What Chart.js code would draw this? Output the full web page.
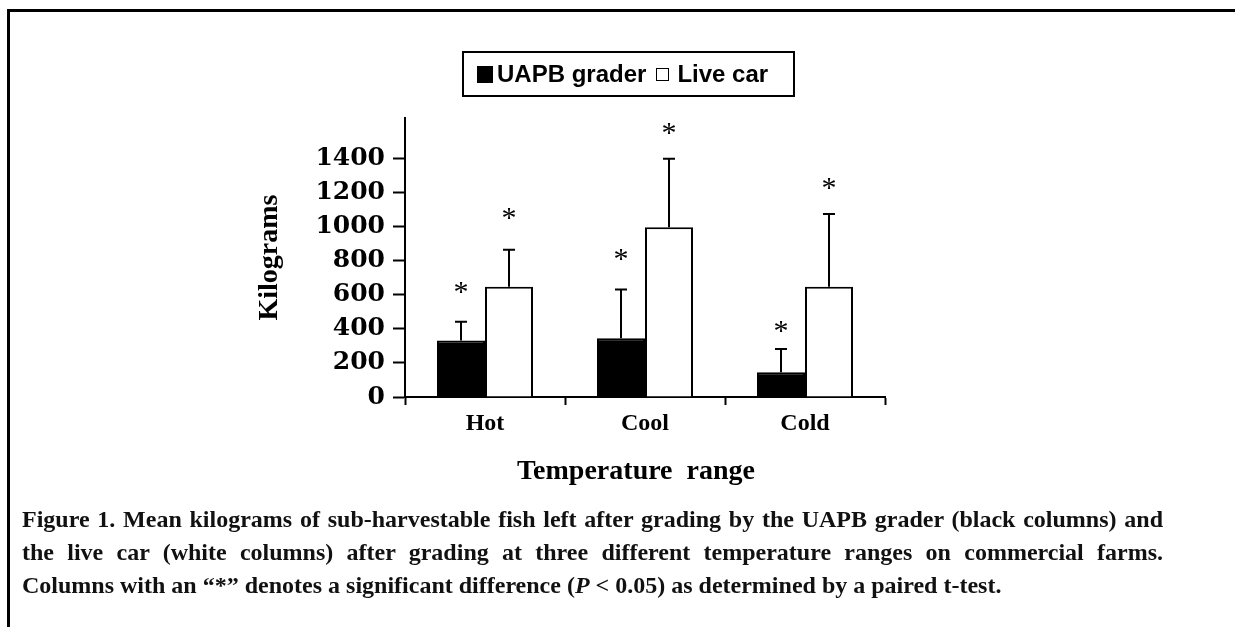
<!DOCTYPE html>
<html>
<head>
<meta charset="utf-8">
<script src="https://cdn.jsdelivr.net/npm/chart.js@4.4.1/dist/chart.umd.min.js"></script>
<style>
  html, body { margin: 0; padding: 0; background: #fff; width: 1235px; height: 627px; overflow: hidden; }
  #frame { position: absolute; left: 7px; top: 9px; width: 1300px; height: 700px;
           border-top: 3px solid #000; border-left: 3px solid #000; }
  #chart { position: absolute; left: 0; top: 0; }
  #legend { position: absolute; left: 462px; top: 51px; width: 316px; height: 42px;
            border: 2px solid #000; display: flex; align-items: center; justify-content: flex-start;
            padding-left: 13px; box-sizing: content-box;
            font: bold 24px "Liberation Sans", Arial, sans-serif; color: #000; white-space: nowrap; }
  .lgItem { display: flex; align-items: center; }
  .sw { display: inline-block; box-sizing: border-box; }
  #xtitle { position: absolute; left: 436px; width: 400px; top: 452px; text-align: center;
            font: bold 28px/36px "Liberation Serif", "Times New Roman", serif; color: #000; white-space: pre; }
  .caption { position: absolute; left: 22px; width: 1141px; line-height: 33px;
             font: bold 24px/33px "Liberation Serif", "Times New Roman", serif; color: #111;
             white-space: nowrap; }
  .just { text-align: justify; text-align-last: justify; white-space: normal; }
</style>
</head>
<body>
<div id="frame"></div>
<canvas id="chart" width="1235" height="627"></canvas>
<div id="legend"></div>
<div id="xtitle"></div>
<div class="caption just" style="top:503px">Figure 1. Mean kilograms of sub-harvestable fish left after grading by the UAPB grader (black columns) and</div>
<div class="caption just" style="top:536px">the live car (white columns) after grading at three different temperature ranges on commercial farms.</div>
<div class="caption" style="top:569px">Columns with an “*” denotes a significant difference (<i>P</i> &lt; 0.05) as determined by a paired t-test.</div>
<script>
// ---- data ----
const categories = ['Hot', 'Cool', 'Cold'];
const seriesNames = ['UAPB grader', 'Live car'];
const uapbMeans = [332, 345, 145];
const uapbErr = [110, 287, 137];
const liveMeans = [648, 998, 648];
const liveErr = [218, 402, 428];
const uapbStarLevel = [655, 845, 425];
const liveStarLevel = [1085, 1590, 1265];
const yTicks = [0, 200, 400, 600, 800, 1000, 1200, 1400];
const yMax = 1640;
const xTitle = 'Temperature  range';
const yTitle = 'Kilograms';

const fills = ['#000000', '#ffffff'];

document.getElementById('xtitle').textContent = xTitle;

// ---- legend (HTML, built from series names) ----
const legendEl = document.getElementById('legend');
seriesNames.forEach((name, i) => {
  const item = document.createElement('span');
  item.className = 'lgItem';
  const sw = document.createElement('span');
  sw.className = 'sw';
  if (i === 0) {
    sw.style.width = '16px'; sw.style.height = '17px'; sw.style.background = '#000'; sw.style.marginRight = '4px';
  } else {
    sw.style.width = '13px'; sw.style.height = '13px'; sw.style.border = '1.5px solid #000';
    sw.style.background = '#fff'; sw.style.marginLeft = '10px'; sw.style.marginRight = '8px';
  }
  item.appendChild(sw);
  item.appendChild(document.createTextNode(name));
  legendEl.appendChild(item);
});

const errSets = [uapbErr, liveErr];
const starSets = [uapbStarLevel, liveStarLevel];

const errorBarPlugin = {
  id: 'errorBars',
  afterDatasetsDraw(chart) {
    const ctx = chart.ctx;
    const y = chart.scales.y;
    ctx.save();
    chart.data.datasets.forEach((ds, di) => {
      const meta = chart.getDatasetMeta(di);
      meta.data.forEach((bar, i) => {
        const top = y.getPixelForValue(ds.data[i] + errSets[di][i]);
        ctx.strokeStyle = '#000';
        ctx.lineWidth = 2;
        ctx.beginPath();
        ctx.moveTo(bar.x, bar.y);
        ctx.lineTo(bar.x, top);
        ctx.moveTo(bar.x - 6, top);
        ctx.lineTo(bar.x + 6, top);
        ctx.stroke();
        const sy = y.getPixelForValue(starSets[di][i]);
        ctx.fillStyle = '#000';
        ctx.font = '30px "Liberation Serif", serif';
        ctx.textAlign = 'center';
        ctx.textBaseline = 'alphabetic';
        ctx.fillText('*', bar.x, sy + 15);
      });
    });
    ctx.restore();
  }
};

new Chart(document.getElementById('chart'), {
  type: 'bar',
  data: {
    labels: categories,
    datasets: [
      { label: seriesNames[0], data: uapbMeans, backgroundColor: fills[0], borderColor: '#000', borderWidth: 2 },
      { label: seriesNames[1], data: liveMeans, backgroundColor: fills[1], borderColor: '#000', borderWidth: 2 }
    ]
  },
  options: {
    responsive: false,
    animation: false,
    events: [],
    layout: { padding: { left: 250, top: 118, right: 350, bottom: 0 } },
    plugins: { legend: { display: false }, tooltip: { enabled: false } },
    datasets: { bar: { categoryPercentage: 0.6, barPercentage: 1.0 } },
    scales: {
      x: {
        afterFit(scale) { scale.height = 230; },
        grid: { display: true, drawOnChartArea: false, drawTicks: true, tickLength: 8, color: '#000', tickColor: '#000', tickWidth: 2, offset: true },
        border: { display: true, color: '#000', width: 2 },
        ticks: { color: '#000', padding: 4, font: { family: '"Liberation Serif", serif', weight: 'bold', size: 24 } },
        title: { display: false }
      },
      y: {
        min: 0, max: yMax,
        afterFit(scale) { scale.width = 155; },
        afterBuildTicks(scale) { scale.ticks = yTicks.map(v => ({ value: v })); },
        grid: { display: true, drawOnChartArea: false, drawTicks: true, tickLength: 12, color: '#000', tickColor: '#000', tickWidth: 2 },
        border: { display: true, color: '#000', width: 2 },
        ticks: { color: '#000', padding: 8, callback: (v) => String(v),
                 font: { family: '"DejaVu Serif", serif', weight: 'bold', size: 25 } },
        title: { display: true, text: yTitle, color: '#000', padding: { top: 3, bottom: 0 },
                 font: { family: '"Liberation Serif", serif', weight: 'bold', size: 28 } }
      }
    }
  },
  plugins: [errorBarPlugin]
});
</script>
</body>
</html>
